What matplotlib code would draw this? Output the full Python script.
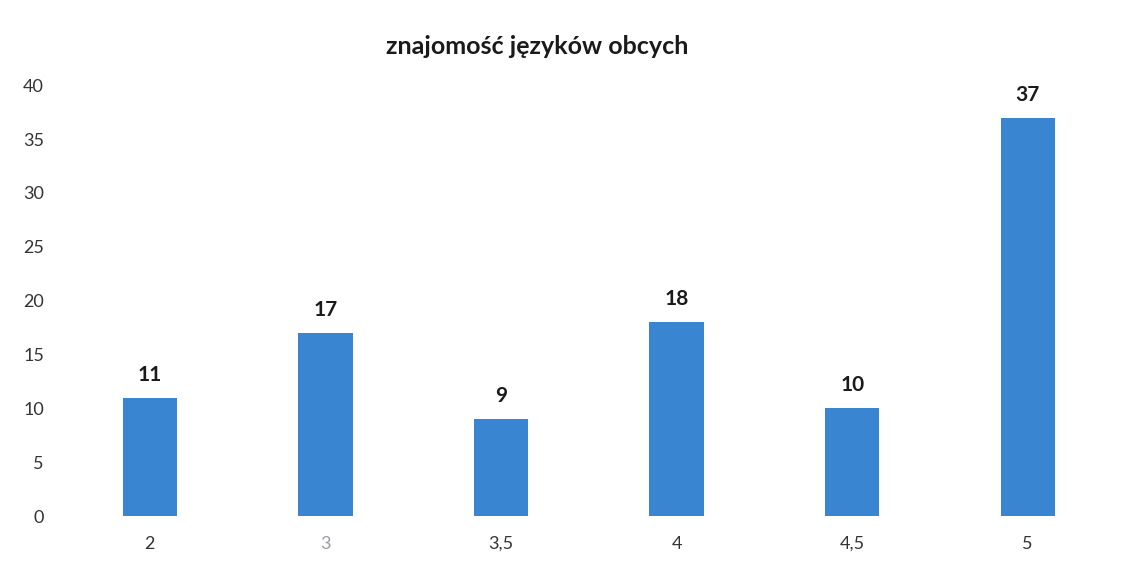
import matplotlib
matplotlib.use('Agg')
from matplotlib import pyplot as plt

# data
oceny = [ '2' , '3' , '3,5' , '4' , '4,5' , '5' ]
liczba = [ 11 , 17 , 9 , 18 , 10 , 37 ]

plt.rcParams[ 'font.family' ] = [ 'Lato' , 'DejaVu Sans' ]

fig = plt.figure( figsize = ( 11.34 , 5.76 ) , dpi = 100 )
ax = fig.add_axes( [ 0.0547 , 0.104 , 0.929 , 0.748 ] )

x = range( len( oceny ) )
bars = ax.bar( x , liczba , width = 0.31 , color = '#3a85d1' )

for b , v in zip( bars , liczba ) :
    ax.text( b.get_x() + b.get_width() / 2 , v + 1.2 , str( v ) ,
             ha = 'center' , va = 'bottom' , fontsize = 15 , fontweight = 'bold' , color = '#1a1a1a' )

ax.set_xlim( -0.5 , len( oceny ) - 0.5 )
ax.set_ylim( 0 , 40 )
ax.set_yticks( range( 0 , 41 , 5 ) )
ax.set_xticks( list( x ) )
ax.set_xticklabels( oceny )
ax.tick_params( axis = 'both' , length = 0 , labelsize = 13 , colors = '#333333' )
ax.tick_params( axis = 'y' , pad = 13 )
ax.tick_params( axis = 'x' , pad = 14 )
ax.get_xticklabels()[ 1 ].set_color( '#9a9aaa' )

for s in ax.spines.values() :
    s.set_visible( False )

fig.text( 0.474 , 0.92 , 'znajomość języków obcych' , ha = 'center' , va = 'center' ,
          fontsize = 18 , fontweight = 'bold' , color = '#1a1a1a' )

fig.savefig( 'out.png' , dpi = 100 )
